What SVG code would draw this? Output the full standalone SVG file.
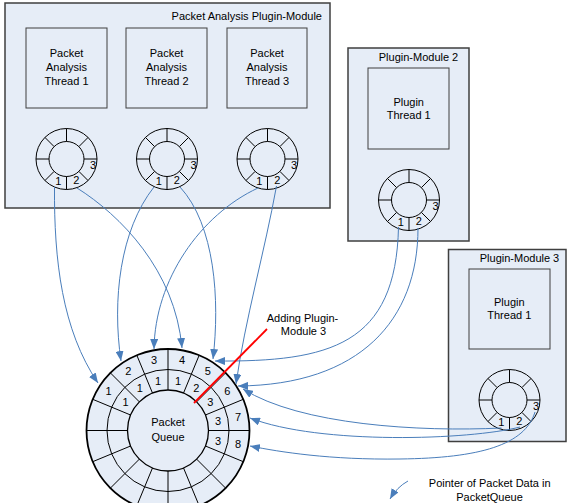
<svg xmlns="http://www.w3.org/2000/svg" width="567" height="503" viewBox="0 0 567 503">
<style>
.mod{fill:#E6EDF7;stroke:#3F3F3F;stroke-width:1.5}
.thr{fill:#E6EDF7;stroke:#3F3F3F;stroke-width:1}
.t{font-family:"Liberation Sans",Arial,sans-serif;font-size:11px;fill:#000}
.c{text-anchor:middle}
.e{text-anchor:end}
.ring{fill:none;stroke:#000;stroke-width:1}
.conn{fill:none;stroke:#4A7EBB;stroke-width:1;marker-end:url(#ah)}
</style>
<defs>
<marker id="ah" markerWidth="10" markerHeight="8" refX="10" refY="4" orient="auto" markerUnits="userSpaceOnUse"><path d="M0,0 L10,4 L0,8 z" fill="#4A7EBB"/></marker>
<g id="sring" class="ring">
<circle r="30.5"/><circle r="17.5"/>
<path d="M17.5,0H30.5M12.37,12.37L21.57,21.57M0,17.5V30.5M-12.37,12.37L-21.57,21.57M-17.5,0H-30.5M-12.37,-12.37L-21.57,-21.57M0,-17.5V-30.5M12.37,-12.37L21.57,-21.57"/>
</g>
</defs>

<g id="module-main">
<rect class="mod" x="5" y="3" width="325" height="205"/>
<text class="t e" x="322" y="20">Packet Analysis Plugin-Module</text>
</g>
<g id="thread1">
<rect class="thr" x="26" y="28" width="81" height="80"/>
<text class="t c" x="66.5" y="57">Packet</text><text class="t c" x="66.5" y="71">Analysis</text><text class="t c" x="66.5" y="85">Thread 1</text>
</g>
<g id="thread2">
<rect class="thr" x="126" y="28" width="81" height="80"/>
<text class="t c" x="166.5" y="57">Packet</text><text class="t c" x="166.5" y="71">Analysis</text><text class="t c" x="166.5" y="85">Thread 2</text>
</g>
<g id="thread3">
<rect class="thr" x="227" y="28" width="80" height="80"/>
<text class="t c" x="267" y="57">Packet</text><text class="t c" x="267" y="71">Analysis</text><text class="t c" x="267" y="85">Thread 3</text>
</g>
<g id="ring1">
<use href="#sring" x="66.5" y="159"/>
<text class="t c" x="58.2" y="185.3">1</text><text class="t c" x="76.3" y="184.2">2</text><text class="t c" x="93" y="168.7">3</text>
</g>
<g id="ring2">
<use href="#sring" x="167" y="159"/>
<text class="t c" x="158.7" y="185.3">1</text><text class="t c" x="176.8" y="184.2">2</text><text class="t c" x="193.5" y="168.7">3</text>
</g>
<g id="ring3">
<use href="#sring" x="267.5" y="159"/>
<text class="t c" x="259.2" y="185.3">1</text><text class="t c" x="277.3" y="184.2">2</text><text class="t c" x="294" y="168.7">3</text>
</g>

<g id="module2">
<rect class="mod" x="348" y="48" width="121" height="193"/>
<text class="t c" x="418.5" y="61">Plugin-Module 2</text>
</g>
<g id="m2-thread">
<rect class="thr" x="368" y="68" width="81" height="81"/>
<text class="t c" x="408.7" y="106">Plugin</text><text class="t c" x="408.7" y="119">Thread 1</text>
</g>
<g id="m2-ring">
<use href="#sring" x="409" y="200"/>
<text class="t c" x="400.7" y="226.3">1</text><text class="t c" x="418.8" y="225.2">2</text><text class="t c" x="435.5" y="209.7">3</text>
</g>

<g id="module3">
<rect class="mod" x="448.5" y="249.5" width="117.5" height="192"/>
<text class="t c" x="519.5" y="262">Plugin-Module 3</text>
</g>
<g id="m3-thread">
<rect class="thr" x="469" y="269" width="81" height="80"/>
<text class="t c" x="509.3" y="306">Plugin</text><text class="t c" x="509.3" y="319">Thread 1</text>
</g>
<g id="m3-ring">
<use href="#sring" x="509.5" y="400"/>
<text class="t c" x="501.2" y="426.3">1</text><text class="t c" x="519.3" y="425.2">2</text><text class="t c" x="536" y="409.7">3</text>
</g>

<g id="packet-queue">
<circle cx="168" cy="430.5" r="81.5" fill="#E6EDF7" stroke="#000" stroke-width="1.8"/>
<circle cx="168" cy="430.5" r="61" fill="none" stroke="#000" stroke-width="1"/>
<circle cx="168" cy="430.5" r="40.5" fill="#E6EDF7" stroke="#000" stroke-width="1.3"/>
<path transform="translate(168,430.5)" fill="none" stroke="#000" stroke-width="1" d="M40.5,0H81.5M37.42,15.5L75.3,31.19M28.64,28.64L57.63,57.63M15.5,37.42L31.19,75.3M0,40.5V81.5M-15.5,37.42L-31.19,75.3M-28.64,28.64L-57.63,57.63M-37.42,15.5L-75.3,31.19M-40.5,0H-81.5M-37.42,-15.5L-75.3,-31.19M-28.64,-28.64L-57.63,-57.63M-15.5,-37.42L-31.19,-75.3M0,-40.5V-81.5M15.5,-37.42L31.19,-75.3M28.64,-28.64L57.63,-57.63M37.42,-15.5L75.3,-31.19"/>
<text class="t c" x="168" y="426">Packet</text>
<text class="t c" x="168" y="440.5">Queue</text>
<text class="t c" x="108.6" y="394.8">1</text>
<text class="t c" x="128.3" y="375">2</text>
<text class="t c" x="154" y="364.4">3</text>
<text class="t c" x="182" y="364.4">4</text>
<text class="t c" x="207.7" y="375">5</text>
<text class="t c" x="227.4" y="394.8">6</text>
<text class="t c" x="238.1" y="420.6">7</text>
<text class="t c" x="238.1" y="448.4">8</text>
<text class="t c" x="125.6" y="406.2">1</text>
<text class="t c" x="139.7" y="392.1">1</text>
<text class="t c" x="158" y="384.5">1</text>
<text class="t c" x="178" y="384.5">1</text>
<text class="t c" x="196.3" y="392.1">2</text>
<text class="t c" x="210.4" y="406.2">3</text>
<text class="t c" x="218" y="424.6">3</text>
<text class="t c" x="218" y="444.5">3</text>
</g>

<g id="connectors">
<path class="conn" d="M54.5,187 C54,260 62,330 98,383"/>
<path class="conn" d="M77,188 C120,215 175,270 182,348"/>
<path class="conn" d="M154,187 C120,230 112,300 121,361"/>
<path class="conn" d="M180,187 C215,225 220,300 213,359"/>
<path class="conn" d="M258,188 C200,215 155,280 154,349"/>
<path class="conn" d="M276.5,186 C265,250 245,320 236,384"/>
<path class="conn" d="M398.5,227 C396,345 330,362 215,361"/>
<path class="conn" d="M418,228 C418,320 360,385 238,386"/>
<path class="conn" d="M501.5,428 C420,432 300,425 243,389"/>
<path class="conn" d="M520,427 C470,440 320,445 250,418"/>
<path class="conn" d="M535,412 C525,445 480,458 400,459 C330,460 280,452 250,446"/>
<path class="conn" d="M408,481 Q397,487 390,499"/>
</g>

<g id="annotation">
<line x1="267" y1="329" x2="194" y2="403" stroke="#FF0000" stroke-width="1.8"/>
<text class="t c" x="302.5" y="322">Adding Plugin-</text>
<text class="t c" x="303.5" y="335">Module 3</text>
</g>

<g id="legend">
<text class="t c" x="489.7" y="487">Pointer of Packet Data in</text>
<text class="t c" x="489.5" y="501">PacketQueue</text>
</g>
</svg>
